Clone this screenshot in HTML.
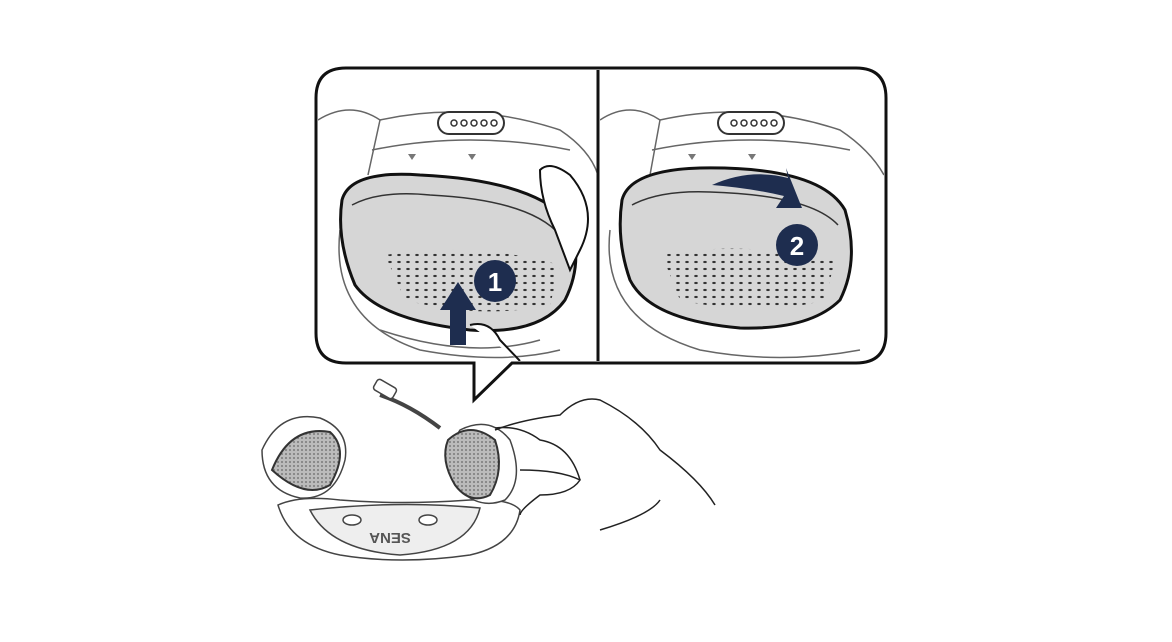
<!DOCTYPE html>
<html><head><meta charset="utf-8"><style>
html,body{margin:0;padding:0;background:#fff;}
svg{display:block}
</style></head><body>
<svg width="1172" height="642" viewBox="0 0 1172 642" xmlns="http://www.w3.org/2000/svg">
<defs>
<pattern id="dots" width="9" height="7" patternUnits="userSpaceOnUse">
<ellipse cx="3" cy="3" rx="1.8" ry="1.1" fill="#333"/>
</pattern>
<pattern id="dots2" width="4" height="4" patternUnits="userSpaceOnUse">
<rect width="4" height="4" fill="#bbb"/>
<circle cx="2" cy="2" r="0.9" fill="#666"/>
</pattern>
<clipPath id="c1"><rect x="318" y="70" width="280" height="291" rx="28"/></clipPath>
<clipPath id="c2"><rect x="600" y="70" width="284" height="291" rx="28"/></clipPath>
</defs>
<rect width="1172" height="642" fill="#fff"/>

<!-- Left panel -->
<g clip-path="url(#c1)" fill="none" stroke="#666" stroke-width="1.5">
<path d="M318 120 Q350 100 380 120 L368 175"/>
<path d="M380 120 Q470 100 560 130 Q590 150 598 175"/>
<path d="M372 150 Q470 130 570 150"/>
<path d="M340 230 Q330 320 420 350 Q500 365 560 350"/>
<path d="M380 330 Q470 360 540 340"/>
<rect x="438" y="112" width="66" height="22" rx="11" fill="#fff" stroke="#333" stroke-width="2"/>
<g fill="#fff" stroke="#333"><circle cx="454" cy="123" r="3"/><circle cx="464" cy="123" r="3"/><circle cx="474" cy="123" r="3"/><circle cx="484" cy="123" r="3"/><circle cx="494" cy="123" r="3"/></g>
<path d="M342 200 Q350 170 420 175 Q530 180 568 220 Q585 260 565 300 Q540 335 470 330 Q380 320 355 285 Q336 240 342 200Z" fill="#d6d6d6" stroke="#111" stroke-width="3"/>
<path d="M352 205 Q380 190 430 195 Q530 200 560 235" stroke="#333"/>
<path d="M385 255 Q470 240 560 265 L550 305 Q480 320 405 300Z" fill="url(#dots)" stroke="none"/>
<path d="M540 170 Q550 160 570 175 Q600 210 580 250 L570 270 L555 230 Q540 200 540 170Z" fill="#fff" stroke="#111" stroke-width="2"/>
<path d="M470 325 Q490 320 500 340 L520 361" stroke="#111" stroke-width="2" fill="#fff"/>
<path d="M440 310 L458 282 L476 310 L466 310 L466 345 L450 345 L450 310Z" fill="#1e2d4f" stroke="none"/>
<path d="M412 160 l-4 -6 h8z M472 160 l-4 -6 h8z" fill="#777" stroke="none"/>
</g>
<circle cx="495" cy="281" r="21" fill="#1e2d4f"/>
<text x="495" y="291" font-family="Liberation Sans, sans-serif" font-weight="bold" font-size="26" fill="#fff" text-anchor="middle">1</text>

<!-- Right panel -->
<g clip-path="url(#c2)" fill="none" stroke="#666" stroke-width="1.5">
<path d="M600 120 Q630 100 660 120 L650 175"/>
<path d="M660 120 Q750 100 840 130 Q870 150 884 175"/>
<path d="M652 150 Q750 130 850 150"/>
<path d="M610 230 Q600 320 700 350 Q780 365 860 350"/>
<rect x="718" y="112" width="66" height="22" rx="11" fill="#fff" stroke="#333" stroke-width="2"/>
<g fill="#fff" stroke="#333"><circle cx="734" cy="123" r="3"/><circle cx="744" cy="123" r="3"/><circle cx="754" cy="123" r="3"/><circle cx="764" cy="123" r="3"/><circle cx="774" cy="123" r="3"/></g>
<path d="M622 200 Q630 170 700 168 Q820 166 845 210 Q860 260 840 300 Q810 330 740 328 Q650 320 630 280 Q616 240 622 200Z" fill="#d6d6d6" stroke="#111" stroke-width="3"/>
<path d="M632 205 Q660 190 710 192 Q810 195 838 225" stroke="#333"/>
<path d="M662 255 Q740 240 835 260 L825 300 Q760 318 680 300Z" fill="url(#dots)" stroke="none"/>
<path d="M712 185 Q750 168 788 178 L786 168 L802 208 L776 208 L784 196 Q750 188 712 185Z" fill="#1e2d4f" stroke="none"/>
<path d="M692 160 l-4 -6 h8z M752 160 l-4 -6 h8z" fill="#777" stroke="none"/>
</g>
<circle cx="797" cy="245" r="21" fill="#1e2d4f"/>
<text x="797" y="255" font-family="Liberation Sans, sans-serif" font-weight="bold" font-size="26" fill="#fff" text-anchor="middle">2</text>

<!-- callout frame -->
<path d="M346 68 H856 Q886 68 886 98 V333 Q886 363 856 363 H512 L474 400 L474 363 H346 Q316 363 316 333 V98 Q316 68 346 68Z" fill="none" stroke="#111" stroke-width="3"/>
<line x1="598" y1="70" x2="598" y2="361" stroke="#111" stroke-width="3"/>

<!-- headset -->
<g fill="#fff" stroke="#444" stroke-width="1.5">
<path d="M278 505 Q300 495 340 500 Q400 505 470 500 Q510 498 520 510 Q515 545 470 555 Q400 565 340 555 Q290 545 278 505Z"/>
<path d="M310 510 Q400 500 480 508 Q470 550 400 555 Q330 550 310 510Z" fill="#eee"/>
<ellipse cx="352" cy="520" rx="9" ry="5"/><ellipse cx="428" cy="520" rx="9" ry="5"/>
<text x="390" y="543" font-family="Liberation Sans, sans-serif" font-weight="bold" font-size="15" fill="#555" stroke="none" text-anchor="middle" transform="rotate(180 390 538)">SENA</text>
<path d="M262 450 Q280 410 320 418 Q350 430 345 460 Q335 500 300 498 Q262 490 262 450Z"/>
<path d="M272 470 Q290 425 330 432 Q350 450 330 485 Q305 500 272 470Z" fill="url(#dots2)" stroke="#333" stroke-width="2"/>
<path d="M460 430 Q490 415 510 440 Q525 480 505 500 Q480 510 460 490 Q440 460 460 430Z"/>
<path d="M448 440 Q470 420 495 440 Q505 470 490 495 Q470 505 455 485 Q440 460 448 440Z" fill="url(#dots2)" stroke="#333" stroke-width="2"/>
<path d="M380 395 Q410 405 440 428" fill="none" stroke-width="4"/>
<rect x="374" y="383" width="22" height="12" rx="3" transform="rotate(30 385 389)"/>
<path d="M495 430 Q520 420 560 415 Q580 395 600 400 Q640 420 660 450 Q700 480 715 505 M520 470 Q560 470 580 480 Q570 495 540 495 Q520 510 520 515 M600 530 Q650 515 660 500" fill="none" stroke="#222"/>
<path d="M495 428 Q520 425 540 440 Q570 445 580 480" fill="none" stroke="#222"/>
</g>
</svg>
</body></html>
